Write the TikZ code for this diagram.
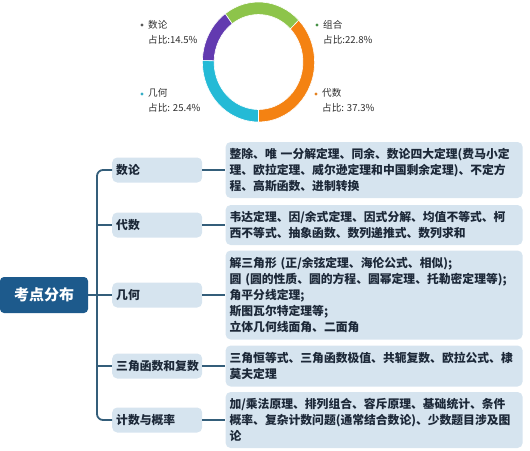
\documentclass[tikz,border=0pt]{standalone}
\usepackage{fontspec}
\setmainfont{Noto Sans CJK SC}
\usepackage{xcolor}
\usepackage{tikz}
\usetikzlibrary{positioning}

\begin{document}
\begin{tikzpicture}[x=1pt,y=-1pt]
    \definecolor{mydeep}{RGB}{29,90,140}
    \definecolor{mylight}{RGB}{214,228,239}
    \definecolor{myline}{RGB}{52,94,122}
    \definecolor{mytext}{RGB}{28,40,56}
    \definecolor{mygreen}{RGB}{141,196,74}
    \definecolor{myorange}{RGB}{244,130,18}
    \definecolor{mypurple}{RGB}{98,58,176}
    \definecolor{mycyan}{RGB}{36,186,214}

    \tikzstyle{root}=[rectangle,rounded corners=4pt,fill=mydeep,text=white,minimum width=88pt,minimum height=36pt,font=\fontsize{15}{18}\selectfont\bfseries]  % 中心主题
    \tikzstyle{cat}=[rectangle,rounded corners=5pt,fill=mylight,text=mytext,text width=82pt,align=left,inner sep=4pt,minimum height=25pt,font=\fontsize{11.8}{15}\selectfont\bfseries]  % 分类块
    \tikzstyle{detail}=[rectangle,rounded corners=5pt,fill=mylight,text=mytext,text width=289pt,align=left,inner xsep=4pt,inner ysep=3pt,font=\fontsize{11.8}{16}\selectfont\bfseries]  % 内容块
    \tikzstyle{link}=[draw=myline,line width=1.8pt]  % 连接线
    \tikzstyle{lab}=[align=left,inner sep=0pt,anchor=west,text=black!82,font=\fontsize{9.6}{15}\selectfont]  % 图例文字
    \tikzstyle{dot}=[circle,inner sep=0pt,minimum size=3.2pt]  % 图例圆点

    \useasboundingbox (0,0) rectangle (530,450);

    % 环形图
    \begin{scope}[shift={(258.5,62)},x=0.935pt,y=1pt]
      \filldraw[fill=myorange,draw=white,line width=0.6pt] (-90:60) arc[start angle=-90,end angle=44.3,radius=60] -- (44.3:47.5) arc[start angle=44.3,end angle=-90,radius=47.5] -- cycle;
      \filldraw[fill=mygreen,draw=white,line width=0.6pt] (44.3:60) arc[start angle=44.3,end angle=126.4,radius=60] -- (126.4:47.5) arc[start angle=126.4,end angle=44.3,radius=47.5] -- cycle;
      \filldraw[fill=mypurple,draw=white,line width=0.6pt] (126.4:60) arc[start angle=126.4,end angle=178.6,radius=60] -- (178.6:47.5) arc[start angle=178.6,end angle=126.4,radius=47.5] -- cycle;
      \filldraw[fill=mycyan,draw=white,line width=0.6pt] (178.6:60) arc[start angle=178.6,end angle=270,radius=60] -- (270:47.5) arc[start angle=270,end angle=178.6,radius=47.5] -- cycle;
    \end{scope}

    % 图例
    \node[dot,fill=black!65] (pshu) at (142,25) {};
    \node[lab] (lshu) at (148,32.5) {数论\\占比:14.5\%};
    \node[dot,fill=black!35!green!45!gray] (pzu) at (317,25) {};
    \node[lab] (lzu) at (323,32.5) {组合\\占比:22.8\%};
    \node[dot,fill=mycyan!80!gray] (pji) at (142,94) {};
    \node[lab] (lji) at (148,100.5) {几何\\占比: 25.4\%};
    \node[dot,fill=myorange!70!brown] (pdai) at (316,94) {};
    \node[lab] (ldai) at (322,100.5) {代数\\占比: 37.3\%};

    % 定义节点
    \node[root] (root) at (44,295) {考点分布};
    \coordinate (trunk) at (97,295);
    \node[cat,anchor=west] (c1) at (112,170) {数论};
    \node[cat,anchor=west] (c2) at (112,225) {代数};
    \node[cat,anchor=west] (c3) at (112,295) {几何};
    \node[cat,anchor=west] (c4) at (112,366) {三角函数和复数};
    \node[cat,anchor=west] (c5) at (112,420) {计数与概率};

    \node[detail,right=23pt of c1,minimum height=56pt] (d1) {整除、唯 一分解定理、同余、数论四大定理(费马小定\\理、欧拉定理、威尔逊定理和中国剩余定理)、不定方\\程、高斯函数、进制转换};
    \node[detail,right=23pt of c2,minimum height=40pt] (d2) {韦达定理、因/余式定理、因式分解、均值不等式、柯\\西不等式、抽象函数、数列递推式、数列求和};
    \node[detail,right=23pt of c3,minimum height=89pt] (d3) {解三角形 (正/余弦定理、海伦公式、相似);\\圆 (圆的性质、圆的方程、圆幂定理、托勒密定理等);\\角平分线定理;\\斯图瓦尔特定理等;\\立体几何线面角、二面角};
    \node[detail,right=23pt of c4,minimum height=41pt] (d4) {三角恒等式、三角函数极值、共轭复数、欧拉公式、棣\\莫夫定理};
    \node[detail,right=23pt of c5,minimum height=56pt] (d5) {加/乘法原理、排列组合、容斥原理、基础统计、条件\\概率、复杂计数问题(通常结合数论)、少数题目涉及图\\论};

    % 开始画线
    \draw[link](root)--(c3);
    \draw[link,rounded corners=6pt](c1.west)-|(trunk)|-(c5.west);
    \draw[link](trunk)|-(c2.west);
    \draw[link](trunk)|-(c4.west);
    \draw[link](c1)--(d1);
    \draw[link](c2)--(d2);
    \draw[link](c3)--(d3);
    \draw[link](c4)--(d4);
    \draw[link](c5)--(d5);
\end{tikzpicture}
\end{document}
